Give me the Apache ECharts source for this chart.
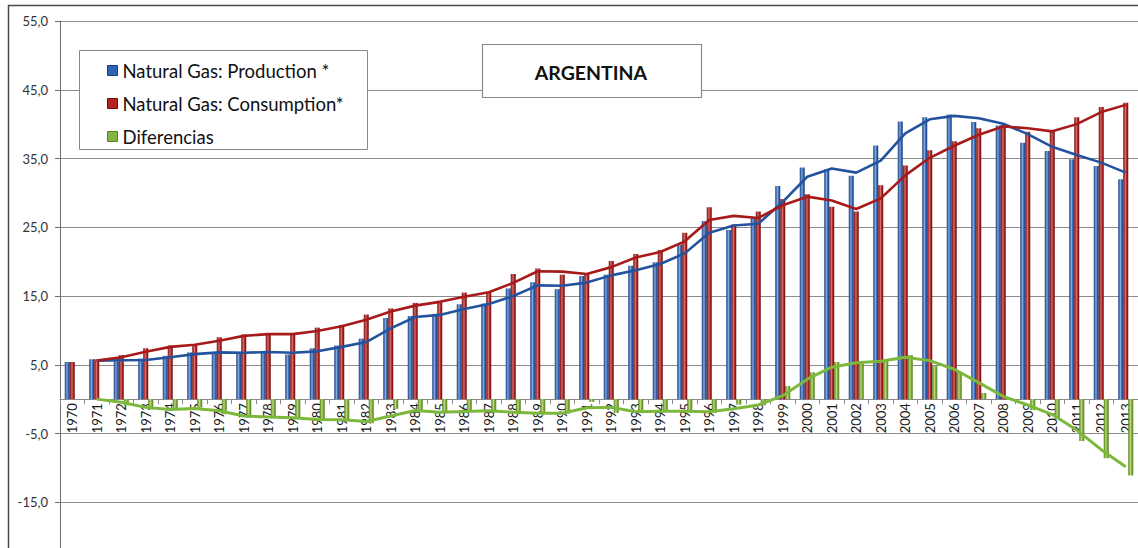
<!DOCTYPE html>
<html>
<head>
<meta charset="utf-8">
<script src="https://cdn.jsdelivr.net/npm/echarts@6/dist/echarts.min.js"></script>
<style>
  html, body { margin: 0; padding: 0; background: #fff; }
  #chart { width: 1138px; height: 548px; }
</style>
</head>
<body>
<div id="chart"></div>
<script>
// Argentina natural gas balance, 1970-2013 (bcm)
const years = ['1970','1971','1972','1973','1974','1975','1976','1977','1978','1979',
  '1980','1981','1982','1983','1984','1985','1986','1987','1988','1989',
  '1990','1991','1992','1993','1994','1995','1996','1997','1998','1999',
  '2000','2001','2002','2003','2004','2005','2006','2007','2008','2009',
  '2010','2011','2012','2013'];

const production = [5.4, 5.8, 5.5, 5.9, 6.3, 6.8, 6.8, 6.7, 7.0, 6.5,
  7.4, 7.8, 8.8, 11.8, 12.1, 12.4, 13.8, 13.9, 16.1, 17.0,
  16.0, 17.9, 18.1, 19.4, 19.9, 22.5, 25.9, 24.6, 26.4, 31.0,
  33.7, 33.4, 32.5, 36.9, 40.4, 41.0, 41.4, 40.3, 39.8, 37.3,
  36.1, 34.9, 33.9, 32.0];

const consumption = [5.4, 5.8, 6.4, 7.4, 7.8, 8.0, 9.0, 9.4, 9.5, 9.4,
  10.4, 10.8, 12.3, 13.2, 14.0, 14.3, 15.5, 15.6, 18.2, 19.0,
  18.1, 18.3, 20.1, 21.1, 21.7, 24.2, 27.9, 25.4, 27.3, 29.1,
  29.8, 28.0, 27.3, 31.1, 34.0, 36.2, 37.5, 39.4, 39.9, 38.9,
  39.0, 41.0, 42.5, 43.1];

const differences = [0.0, 0.0, -0.9, -1.5, -1.5, -1.2, -2.2, -2.7, -2.5, -2.9,
  -3.0, -3.0, -3.5, -1.4, -1.9, -1.9, -1.7, -1.7, -2.1, -2.0,
  -2.1, -0.4, -2.0, -1.7, -1.8, -1.7, -2.0, -0.8, -0.9, 1.9,
  3.9, 5.4, 5.2, 5.8, 6.4, 4.8, 3.9, 0.9, -0.1, -1.6,
  -2.9, -6.1, -8.6, -11.1];

// Two-period moving-average trendlines (first year has no value)
const productionTrend = [null, 5.6, 5.65, 5.7, 6.1, 6.55, 6.8, 6.75, 6.85, 6.75,
  6.95, 7.6, 8.3, 10.3, 11.95, 12.25, 13.1, 13.85, 15.0, 16.55,
  16.5, 16.95, 18.0, 18.75, 19.65, 21.2, 24.2, 25.25, 25.5, 28.7,
  32.35, 33.55, 32.95, 34.7, 38.65, 40.7, 41.2, 40.85, 40.05, 38.55,
  36.7, 35.5, 34.4, 32.95];

const consumptionTrend = [null, 5.6, 6.1, 6.9, 7.6, 7.9, 8.5, 9.2, 9.45, 9.45,
  9.9, 10.6, 11.55, 12.75, 13.6, 14.15, 14.9, 15.55, 16.9, 18.6,
  18.55, 18.2, 19.2, 20.6, 21.4, 22.95, 26.05, 26.65, 26.35, 28.2,
  29.45, 28.9, 27.65, 29.2, 32.55, 35.1, 36.85, 38.45, 39.65, 39.4,
  38.95, 40.0, 41.75, 42.8];

const differencesTrend = [null, 0.0, -0.45, -1.2, -1.5, -1.35, -1.7, -2.45, -2.6, -2.7,
  -2.95, -3.0, -3.25, -2.45, -1.65, -1.9, -1.8, -1.7, -1.9, -2.05,
  -2.05, -1.25, -1.2, -1.85, -1.75, -1.75, -1.85, -1.4, -0.85, 0.5,
  2.9, 4.65, 5.3, 5.5, 6.1, 5.6, 4.35, 2.4, 0.4, -0.85,
  -2.25, -4.5, -7.35, -9.85];

const seriesNames = ['Natural Gas: Production *', 'Natural Gas: Consumption*', 'Diferencias'];
const chartTitle = 'ARGENTINA';

const FONT = 'Lato, "Open Sans", sans-serif';

// value range and plot geometry; the plot runs on below the page (down to -25)
const Y_MIN = -25, Y_MAX = 55;
const PLOT_TOP = 21, PLOT_HEIGHT = 550;
// the category axis sits on the zero line: distance from the plot bottom up to 0
const zeroOffset = -PLOT_HEIGHT * (0 - Y_MIN) / (Y_MAX - Y_MIN);

function shade(edge, mid, light) {
  return {
    type: 'linear', x: 0, y: 0, x2: 1, y2: 0,
    colorStops: [
      { offset: 0, color: edge },
      { offset: 0.45, color: light },
      { offset: 0.7, color: mid },
      { offset: 1, color: edge }
    ]
  };
}

const blueFill = shade('#173b7c', '#2f64b4', '#7fa7dc');
const redFill = shade('#6c0b0b', '#a82020', '#d86a6a');
const greenFill = shade('#557d1f', '#7aa735', '#b8d877');

const chart = echarts.init(document.getElementById('chart'), null, { renderer: 'svg' });

chart.setOption({
  backgroundColor: '#ffffff',
  animation: false,
  textStyle: { fontFamily: FONT },
  grid: { left: 60, top: PLOT_TOP, width: 1078, height: PLOT_HEIGHT, containLabel: false, outerBoundsMode: 'none' },
  legend: {
    orient: 'vertical',
    left: 102,
    top: 55,
    itemWidth: 10,
    itemHeight: 10,
    itemGap: 12,
    icon: 'rect',
    selectedMode: false,
    z: 110,
    textStyle: { fontFamily: FONT, fontSize: 18.5, color: '#111', lineHeight: 21 },
    data: [
      { name: seriesNames[0], itemStyle: { color: '#2e62b2', borderColor: '#183e7e', borderWidth: 1 } },
      { name: seriesNames[1], itemStyle: { color: '#b52222', borderColor: '#6e0c0c', borderWidth: 1 } },
      { name: seriesNames[2], itemStyle: { color: '#86b444', borderColor: '#5a8421', borderWidth: 1 } }
    ]
  },
  xAxis: {
    type: 'category',
    data: years,
    boundaryGap: true,
    position: 'bottom',
    offset: zeroOffset,
    axisLine: { show: true, onZero: false, lineStyle: { color: '#8a8a8a', width: 1 } },
    axisTick: { show: true, length: 5, lineStyle: { color: '#8a8a8a' } },
    axisLabel: { rotate: 90, interval: 0, margin: 4, fontSize: 13, color: '#1a1a1a', fontFamily: FONT },
    splitLine: { show: false }
  },
  yAxis: {
    type: 'value',
    min: Y_MIN,
    max: Y_MAX,
    interval: 10,
    axisLine: { show: true, lineStyle: { color: '#6e6e6e', width: 1 } },
    axisTick: { show: true, length: 5, lineStyle: { color: '#6e6e6e' } },
    axisLabel: {
      margin: 12, fontSize: 13, color: '#333', fontFamily: FONT,
      showMinLabel: false,
      formatter: v => v.toFixed(1).replace('.', ',')
    },
    splitLine: { show: true, lineStyle: { color: '#8c8c8c', width: 1 } }
  },
  graphic: [
    {
      type: 'rect', z: 100, silent: true,
      shape: { x: 8.5, y: 5.5, width: 1200, height: 600 },
      style: { fill: 'none', stroke: '#4a4a4a', lineWidth: 1.5 }
    },
    {
      type: 'rect', z: 100, silent: true,
      shape: { x: 79.5, y: 50.5, width: 288, height: 99 },
      style: { fill: '#ffffff', stroke: '#8a8a8a', lineWidth: 1 }
    },
    {
      type: 'rect', z: 100, silent: true,
      shape: { x: 482.5, y: 44.5, width: 219, height: 53 },
      style: { fill: '#ffffff', stroke: '#8a8a8a', lineWidth: 1.2 }
    },
    {
      type: 'text', z: 101, silent: true,
      x: 591, y: 72,
      style: {
        text: chartTitle, fill: '#111', fontSize: 19.5, fontWeight: 'bold',
        fontFamily: FONT, align: 'center', verticalAlign: 'middle'
      }
    }
  ],
  series: [
    {
      name: seriesNames[0], type: 'bar', data: production,
      barWidth: 5, barGap: '0%', itemStyle: { color: blueFill }
    },
    {
      name: seriesNames[1], type: 'bar', data: consumption,
      barWidth: 5, barGap: '0%', itemStyle: { color: redFill }
    },
    {
      name: seriesNames[2], type: 'bar', data: differences,
      barWidth: 5, barGap: '0%', itemStyle: { color: greenFill }
    },
    {
      name: 'Production trend', type: 'line', data: productionTrend,
      symbol: 'none', smooth: false, z: 5,
      lineStyle: { color: '#23529f', width: 2.6 }
    },
    {
      name: 'Consumption trend', type: 'line', data: consumptionTrend,
      symbol: 'none', smooth: false, z: 5,
      lineStyle: { color: '#a81a1a', width: 2.6 }
    },
    {
      name: 'Differences trend', type: 'line', data: differencesTrend,
      symbol: 'none', smooth: false, z: 5,
      lineStyle: { color: '#7cb83b', width: 3 }
    }
  ]
});
</script>
</body>
</html>
